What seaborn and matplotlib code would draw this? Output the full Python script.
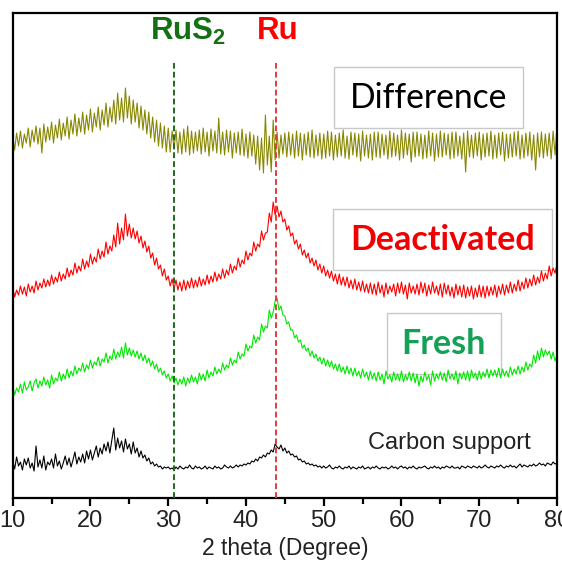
"""
XRD patterns of the Ru catalyst (fresh / deactivated), the carbon support
and the difference trace, with the RuS2 and Ru reference positions.
"""

import matplotlib
matplotlib.use("Agg")
import matplotlib.pyplot as plt
from matplotlib.patches import Rectangle
import numpy as np
import pandas as pd
import seaborn as sns

# 2 theta grid, 0.25 degree step from 10 to 80 (281 points)
two_theta = np.linspace(10.0, 80.0, 281)

# intensities (a.u., already offset for stacking)
# one row per degree: values at x, x+0.25, x+0.5, x+0.75
carbon = [
    37, 29, 41, 32,  36, 28, 39, 33,  40, 30, 35, 27,  52, 31, 38, 30,
    42, 28, 36, 33,  39, 30, 44, 32,  37, 29, 35, 42,  33, 40, 31, 38,
    46, 34, 41, 36,  44, 35, 47, 39,  48, 38, 45, 52,  41, 50, 44, 54,
    47, 56, 45, 58,  70, 48, 60, 50,  57, 46, 59, 49,  54, 44, 56, 45,
    50, 41, 47, 40,  43, 37, 40, 34,  36, 32, 34, 31,  32, 29, 31, 30,
    31, 29, 30, 28,  31, 29, 32, 30,  29, 31, 30, 33,  30, 29, 32, 30,
    31, 29, 30, 32,  29, 31, 30, 29,  32, 30, 31, 29,  30, 33, 31, 30,
    32, 30, 31, 33,  31, 33, 32, 34,  33, 35, 34, 37,  36, 39, 37, 41,
    40, 43, 41, 45,  44, 48, 46, 54,  51, 49, 53, 47,  50, 45, 47, 43,
    44, 41, 42, 38,  39, 36, 37, 34,  35, 33, 34, 32,  33, 31, 32, 30,
    32, 30, 31, 33,  30, 29, 31, 30,  32, 30, 29, 31,  30, 32, 29, 31,
    30, 29, 31, 30,  32, 29, 30, 31,  29, 31, 30, 32,  30, 29, 31, 30,
    31, 29, 30, 32,  30, 31, 29, 31,  32, 30, 31, 29,  31, 30, 32, 30,
    29, 31, 30, 31,  32, 30, 29, 31,  30, 32, 30, 31,  29, 31, 30, 32,
    31, 30, 32, 30,  30, 31, 29, 32,  31, 30, 32, 31,  30, 32, 31, 30,
    32, 30, 31, 33,  31, 30, 32, 31,  30, 32, 31, 33,  31, 30, 32, 31,
    33, 31, 32, 30,  32, 34, 31, 33,  32, 31, 33, 32,  34, 32, 33, 35,
    33, 34, 32, 35,  34, 33, 36, 34,
    35,
]

fresh = [
    112, 103, 110, 106,  114, 105, 116, 108,  111, 117, 107, 115,
    119, 110, 117, 112,  121, 113, 118, 110,  123, 114, 120, 117,
    126, 117, 124, 119,  129, 120, 127, 122,  132, 124, 130, 127,
    135, 126, 133, 129,  138, 130, 136, 133,  141, 132, 139, 136,
    145, 135, 142, 138,  149, 139, 146, 141,  151, 140, 155, 143,
    150, 142, 148, 141,  147, 139, 145, 137,  143, 135, 140, 132,
    137, 129, 134, 126,  130, 123, 127, 120,  124, 117, 122, 115,
    120, 113, 119, 114,  121, 112, 120, 115,  123, 116, 121, 114,
    125, 118, 124, 117,  128, 120, 126, 122,  131, 124, 129, 125,
    135, 128, 133, 130,  140, 133, 138, 135,  146, 139, 144, 142,
    154, 147, 152, 150,  163, 155, 161, 158,  174, 166, 172, 170,
    188, 180, 186, 197,  200, 188, 192, 183,  182, 174, 176, 168,
    168, 160, 163, 156,  158, 150, 153, 147,  150, 142, 147, 140,
    144, 137, 141, 134,  140, 132, 138, 131,  137, 129, 134, 127,
    134, 126, 131, 124,  132, 124, 130, 122,  130, 122, 127, 120,
    129, 121, 126, 118,  127, 119, 125, 117,  126, 118, 124, 114,
    127, 119, 123, 116,  126, 118, 124, 117,  127, 116, 123, 118,
    126, 117, 125, 115,  124, 112, 122, 116,  126, 118, 123, 113,
    127, 117, 124, 119,  126, 118, 125, 116,  128, 119, 124, 118,
    127, 114, 125, 119,  126, 118, 127, 117,  128, 120, 125, 118,
    127, 119, 126, 121,  129, 120, 128, 122,  128, 121, 130, 120,
    129, 122, 127, 121,  131, 123, 129, 124,  132, 124, 131, 126,
    136, 128, 134, 131,  143, 135, 147, 138,  150, 141, 148, 143,
    147, 139, 146, 137,
    143,
]

deactivated = [
    210, 201, 208, 203,  212, 204, 211, 202,  214, 206, 212, 205,
    217, 208, 215, 210,  219, 211, 218, 212,  223, 214, 221, 216,
    226, 217, 224, 219,  230, 221, 228, 223,  235, 225, 232, 227,
    239, 229, 237, 231,  244, 234, 241, 236,  249, 239, 247, 241,
    256, 244, 252, 247,  263, 251, 275, 254,  270, 258, 284, 262,
    274, 260, 270, 259,  267, 255, 262, 250,  257, 246, 252, 240,
    245, 233, 240, 229,  233, 222, 229, 218,  222, 212, 219, 209,
    218, 208, 216, 207,  218, 208, 217, 210,  220, 210, 218, 211,
    221, 212, 219, 213,  223, 214, 222, 216,  226, 217, 224, 219,
    229, 220, 228, 223,  234, 225, 232, 228,  240, 231, 238, 234,
    247, 238, 245, 242,  256, 247, 254, 251,  267, 258, 265, 266,
    285, 276, 296, 283,  292, 281, 287, 276,  279, 268, 272, 262,
    265, 254, 258, 249,  254, 243, 248, 240,  245, 235, 240, 232,
    238, 228, 234, 225,  232, 222, 228, 220,  227, 217, 224, 214,
    224, 213, 221, 212,  221, 210, 218, 209,  219, 208, 216, 207,
    217, 206, 214, 205,  215, 204, 214, 203,  216, 205, 213, 201,
    215, 204, 212, 206,  214, 202, 215, 205,  216, 204, 213, 199,
    215, 205, 212, 204,  214, 203, 216, 205,  215, 202, 213, 204,
    216, 205, 212, 203,  214, 201, 215, 204,  213, 202, 211, 200,
    214, 203, 212, 201,  213, 200, 211, 202,  212, 199, 210, 201,
    213, 201, 212, 200,  212, 202, 211, 203,  213, 201, 212, 204,
    214, 203, 213, 205,  216, 205, 214, 207,  218, 207, 216, 209,
    220, 210, 219, 212,  223, 213, 221, 215,  227, 217, 225, 219,
    232, 222, 230, 225,
    234,
]

difference = [
    362, 348, 365, 352,  367, 350, 364, 355,  370, 351, 368, 356,
    372, 354, 370, 345,  374, 356, 371, 358,  376, 355, 373, 360,
    379, 358, 375, 362,  381, 359, 378, 364,  384, 362, 380, 366,
    386, 364, 383, 368,  389, 366, 385, 371,  391, 368, 388, 373,
    395, 371, 391, 376,  398, 374, 405, 378,  400, 376, 410, 380,
    402, 374, 398, 376,  395, 370, 392, 368,  388, 364, 386, 360,
    381, 356, 378, 352,  375, 350, 372, 346,  370, 346, 367, 349,
    368, 345, 366, 344,  369, 346, 372, 343,  367, 345, 366, 347,
    368, 344, 370, 346,  366, 342, 369, 347,  367, 345, 380, 344,
    366, 343, 368, 346,  367, 340, 365, 345,  366, 343, 369, 342,
    364, 340, 366, 342,  363, 334, 362, 328,  360, 325, 383, 333,
    362, 326, 378, 338,  366, 340, 363, 344,  365, 341, 366, 343,
    364, 340, 367, 342,  365, 338, 364, 343,  366, 341, 368, 340,
    363, 342, 365, 339,  364, 340, 367, 342,  366, 338, 363, 341,
    365, 342, 368, 340,  362, 339, 366, 343,  365, 341, 364, 337,
    367, 342, 363, 340,  364, 338, 366, 341,  366, 340, 364, 343,
    363, 339, 367, 341,  365, 342, 363, 338,  368, 340, 365, 343,
    364, 336, 366, 341,  366, 342, 364, 339,  363, 340, 367, 342,
    365, 337, 364, 341,  367, 341, 365, 343,  364, 339, 366, 340,
    366, 342, 362, 339,  365, 326, 367, 341,  363, 340, 365, 342,
    366, 338, 364, 341,  365, 342, 367, 339,  363, 340, 365, 343,
    366, 337, 364, 340,  364, 341, 366, 342,  367, 339, 363, 340,
    365, 342, 366, 338,  363, 328, 365, 341,  366, 340, 364, 342,
    365, 339, 367, 343,
    372,
]

# reference peak positions
ref_names = ["RuS$_{\\mathregular{2}}$", "Ru"]
ref_positions = [30.8, 43.9]
ref_label_x = [32.6, 44.1]
ref_colors = ["#137013", "#ff0000"]
ref_line_colors = ["#1d6a1d", "#e33c3c"]

series = {
    "Carbon support": (carbon, "#000000"),
    "Fresh": (fresh, "#00e800"),
    "Deactivated": (deactivated, "#ff0000"),
    "Difference": (difference, "#878700"),
}

sns.set_theme(style="ticks")
plt.rcParams["font.family"] = ["Liberation Sans", "DejaVu Sans"]
plt.rcParams["mathtext.fontset"] = "custom"
plt.rcParams["mathtext.rm"] = "Liberation Sans:bold"

fig = plt.figure(figsize=(5.62, 5.67), dpi=100)
ax = fig.add_axes([0.0226, 0.1217, 0.9685, 0.8553])

for name, (values, color) in series.items():
    df = pd.DataFrame({"two_theta": two_theta, "intensity": values})
    sns.lineplot(data=df, x="two_theta", y="intensity", color=color,
                 linewidth=0.8, ax=ax, legend=False, zorder=2)

# dashed reference lines and their labels
for name, pos, lx, color, lcolor in zip(ref_names, ref_positions,
                                        ref_label_x, ref_colors,
                                        ref_line_colors):
    ax.plot([pos, pos], [0, 435], color=lcolor, linewidth=1.4,
            dashes=(3, 1.6), zorder=3)
    ax.text(lx, 467, name, color=color, fontsize=22.5,
            fontweight="bold", ha="center", va="center")

# boxed sample labels (box corners in data units)
boxes = [
    (51.3, 370, 24.3, 61),
    (51.2, 228, 28.1, 61),
    (58.1, 124, 14.7, 61),
]
for x0, y0, w, h in boxes:
    ax.add_patch(Rectangle((x0, y0), w, h, facecolor="white",
                           edgecolor="#c8c8c8", linewidth=1.0, zorder=1))

ax.text(63.45, 400, "Difference", family="Lato", fontsize=24.2,
        color="black", ha="center", va="center")
ax.text(65.25, 258, "Deactivated", family="Lato", fontsize=24.5,
        fontweight="bold", color="#f00000", ha="center", va="center")
ax.text(65.45, 154, "Fresh", family="Lato", fontsize=24.5,
        fontweight="bold", color="#14a055", ha="center", va="center")
ax.text(66.2, 55, "Carbon support", fontsize=17, color="#222222",
        ha="center", va="center")

ax.set_xlim(10, 80)
ax.set_ylim(0, 485)
ax.set_xticks(range(10, 81, 10))
ax.set_xticks(range(15, 80, 10), minor=True)
ax.set_yticks([])
ax.tick_params(axis="x", which="major", length=6, width=1.6,
               labelsize=17, pad=3, color="black", labelcolor="#222222")
ax.tick_params(axis="x", which="minor", length=4, width=1.6,
               color="black")
for side in ["top", "bottom", "left", "right"]:
    ax.spines[side].set_visible(True)
    ax.spines[side].set_linewidth(1.6)
    ax.spines[side].set_color("black")

ax.set_xlabel("2 theta (Degree)", fontsize=16.5, labelpad=3,
              color="#222222")
ax.set_ylabel("")

fig.savefig("out.png", dpi=100)
